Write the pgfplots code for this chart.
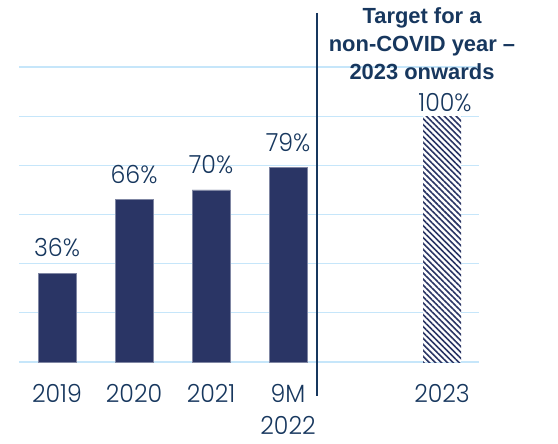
\documentclass[border=0pt]{standalone}
\usepackage{pgfplots}
\pgfplotsset{compat=1.18}
\usetikzlibrary{patterns.meta}
\usepackage{fontspec}
\setmainfont{Liberation Sans}
\newfontfamily\lfont[FakeStretch=0.95]{Poppins Light}
\definecolor{navy}{RGB}{42,53,101}
\definecolor{txt}{RGB}{23,55,94}
\definecolor{gridc}{RGB}{198,230,250}
\begin{document}
\begin{tikzpicture}
\begin{axis}[
  at={(0,0)}, anchor=south west,
  scale only axis, width=460bp, height=295bp,
  xmin=-0.494, xmax=5.48, ymin=0, ymax=120,
  axis line style={draw=none},
  major tick length=0pt,
  ytick={0,20,...,120}, yticklabels={},
  ymajorgrids, grid style={gridc, line width=1.2bp},
  xtick={0,1,2,3,5},
  xticklabels={2019,2020,2021,{9M\\2022},2023},
  x tick label style={font=\lfont\fontsize{25}{32}\selectfont, text=txt, align=center, anchor=north, inner sep=0pt, yshift=-22bp},
  ybar, bar width=38bp,
  clip=false,
  nodes near coords={\lfont\fontsize{25}{25}\selectfont\pgfmathprintnumber[assume math mode=true]{\pgfplotspointmeta}\%},
]
\addplot[bar shift=0pt, fill=navy, draw=navy!60!white, line width=0.6bp,
  nodes near coords style={text=txt, anchor=south, inner sep=0pt, yshift=16bp}]
  coordinates {(0,36) (1,66) (2,70) (3,79)};
\addplot[bar shift=0pt, fill=white, draw=none,
  postaction={pattern={Lines[angle=-45, distance=4.2bp, line width=1.6bp]}, pattern color=navy},
  nodes near coords style={text=txt, anchor=south, inner sep=0pt, yshift=4bp, xshift=3bp}]
  coordinates {(5,100)};
\draw[txt, line width=2bp] (axis cs:3.38,142) -- (axis cs:3.38,-13.8);
\node[font=\bfseries\fontsize{22}{28.5}\selectfont, text=txt, align=center] at (axis cs:4.74,129.5) {Target for a\\non-COVID year –\\2023 onwards};
\end{axis}
\pgfresetboundingbox
\path (-19bp,-82bp) rectangle (539bp,362bp);
\end{tikzpicture}
\end{document}
